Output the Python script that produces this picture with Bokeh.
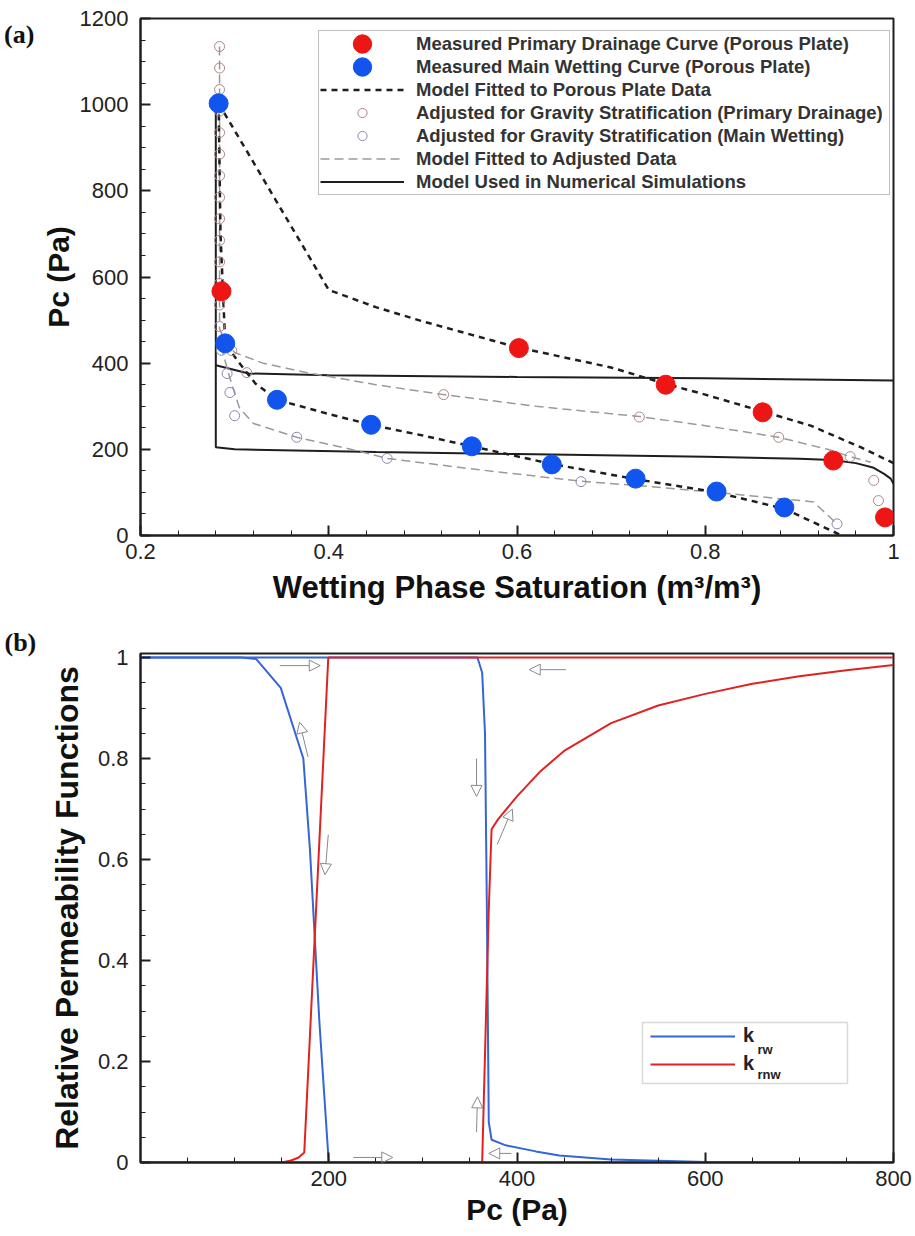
from bokeh.plotting import figure
from bokeh.models import (Range1d, Legend, LegendItem, Label, Arrow, NormalHead, BoxAnnotation, Div,
                          SingleIntervalTicker, FixedTicker, CustomJSTickFormatter, ColumnDataSource)
from bokeh.layouts import column, row
from bokeh.embed import file_html
from bokeh.resources import INLINE

# ---------------- Panel (a) data ----------------
sat_pd_meas = [0.286, 0.602, 0.758, 0.861, 0.936, 0.991]
pc_pd_meas = [567, 435, 350, 286, 174, 42]

sat_mw_meas = [0.283, 0.290, 0.345, 0.445, 0.552, 0.637, 0.726, 0.812, 0.884]
pc_mw_meas = [1003, 446, 315, 257, 207, 165, 132, 102, 65]

sat_fit_pd = [0.283, 0.40, 0.45, 0.50, 0.60, 0.70, 0.758, 0.80, 0.861, 0.912, 0.965, 1.0]
pc_fit_pd = [1003, 570, 530, 497, 437, 390, 352, 327, 288, 255, 205, 168]

sat_fit_mw = [0.283, 0.285, 0.290, 0.303, 0.322, 0.345, 0.40, 0.445, 0.50, 0.552, 0.637, 0.726, 0.812, 0.884, 0.945]
pc_fit_mw = [1003, 700, 446, 406, 353, 315, 282, 257, 232, 207, 166, 131, 100, 62, 0]

sat_pd_adj = [0.284, 0.284, 0.284, 0.284, 0.284, 0.284, 0.284, 0.284, 0.284, 0.284, 0.284, 0.284, 0.284, 0.284,
              0.297, 0.313, 0.522, 0.730, 0.878, 0.954, 0.979, 0.984]
pc_pd_adj = [1135, 1085, 1035, 985, 935, 885, 835, 785, 735, 685, 635, 585, 535, 485,
             429, 378, 327, 275, 228, 183, 128, 81]

sat_mw_adj = [0.286, 0.292, 0.295, 0.300, 0.366, 0.462, 0.668, 0.940]
pc_mw_adj = [430, 376, 332, 278, 228, 179, 125, 27]

sat_afit_pd = [0.284, 0.284, 0.290, 0.300, 0.330, 0.377, 0.450, 0.522, 0.620, 0.730, 0.800, 0.878, 0.930, 0.954, 0.976]
pc_afit_pd = [1135, 480, 450, 425, 400, 378, 350, 327, 300, 276, 255, 228, 200, 183, 170]

sat_afit_mw = [0.286, 0.289, 0.293, 0.298, 0.305, 0.320, 0.366, 0.420, 0.462, 0.550, 0.668, 0.750, 0.811, 0.915, 0.940]
pc_afit_mw = [440, 413, 380, 344, 297, 260, 228, 202, 179, 155, 126, 112, 100, 78, 27]

sat_sim_lo = [0.28, 0.28, 0.30, 0.45, 0.60, 0.80, 0.90, 0.935, 0.96, 0.978, 0.99, 0.997, 1.0]
pc_sim_lo = [1000, 205, 200, 194, 189, 183, 178, 175, 168, 158, 143, 132, 120]
sat_sim_up = [0.28, 0.315, 0.40, 0.60, 0.80, 1.0]
pc_sim_up = [395, 376, 372, 368, 365, 360]

# ---------------- Panel (b) data ----------------
pc_krw_a = [0, 107, 123, 149, 173, 180, 190, 200, 800]
krw_a = [1.0, 1.0, 0.997, 0.94, 0.80, 0.62, 0.28, 0.0, 0.0]
pc_krw_b = [0, 358, 363, 366, 368, 370, 373, 388, 420, 445, 500, 600, 800]
krw_b = [1.0, 1.0, 0.97, 0.85, 0.5, 0.08, 0.045, 0.034, 0.022, 0.014, 0.006, 0.001, 0.0]
pc_krnw_a = [0, 150, 160, 168, 174, 199.5, 800]
krnw_a = [0.0, 0.0, 0.004, 0.01, 0.02, 1.0, 1.0]
pc_krnw_b = [0, 363, 370, 373, 380, 400, 425, 450, 500, 550, 600, 650, 700, 750, 800]
krnw_b = [0.0, 0.0, 0.5, 0.66, 0.68, 0.725, 0.775, 0.815, 0.87, 0.905, 0.928, 0.948, 0.963, 0.975, 0.985]

# direction arrows (Pc, kr)
arr_x0 = [148, 178, 199.5, 226, 357, 394, 357, 379, 452]
arr_y0 = [0.984, 0.803, 0.649, 0.010, 0.060, 0.018, 0.800, 0.630, 0.976]
arr_x1 = [191, 169, 196, 268, 358, 370, 357, 395, 413]
arr_y1 = [0.984, 0.872, 0.570, 0.010, 0.130, 0.018, 0.725, 0.700, 0.976]

AX_FONT = "Liberation Sans"
TICK_FONT = "Liberation Sans"
BLACK = "#1e1e1e"
FMT = CustomJSTickFormatter(code="return String(Math.round(tick * 1000) / 1000);")


def style(p):
    p.grid.visible = False
    p.outline_line_color = BLACK
    p.outline_line_width = 2
    for ax in (p.xaxis[0], p.yaxis[0]):
        ax.axis_line_width = 2
        ax.axis_line_color = BLACK
        ax.major_tick_in = 10
        ax.major_tick_out = 0
        ax.minor_tick_in = 5
        ax.minor_tick_out = 0
        ax.major_tick_line_width = 2
        ax.major_tick_line_color = BLACK
        ax.minor_tick_line_color = BLACK
        ax.major_label_text_font = TICK_FONT
        ax.major_label_text_font_size = "22px"
        ax.major_label_text_color = "#222222"
        ax.axis_label_text_font = AX_FONT
        ax.axis_label_text_font_style = "bold"
        ax.axis_label_text_font_size = "30px"
        ax.axis_label_text_color = "#111111"


# ---------------- Figure (a) ----------------
TAG_W = 36
pa = figure(frame_width=753, frame_height=517, min_border_left=140 - TAG_W, min_border_right=22,
            min_border_top=18, min_border_bottom=75,
            x_range=Range1d(0.2, 1.0), y_range=Range1d(0, 1200),
            output_backend="svg", toolbar_location=None)
style(pa)
pa.xaxis.ticker = SingleIntervalTicker(interval=0.2, num_minor_ticks=5)
pa.yaxis.ticker = SingleIntervalTicker(interval=200, num_minor_ticks=4)
pa.xaxis.formatter = FMT
pa.xaxis.axis_label = "Wetting Phase Saturation (m³/m³)"
pa.yaxis.axis_label = "Pc (Pa)"
pa.xaxis.axis_label_text_font_size = "31px"
pa.xaxis.major_label_standoff = 8
pa.yaxis.major_label_standoff = 12
pa.xaxis.axis_label_standoff = 8
pa.yaxis.axis_label_standoff = 2

r_sim1 = pa.line(sat_sim_lo, pc_sim_lo, line_color=BLACK, line_width=2)
pa.line(sat_sim_up, pc_sim_up, line_color=BLACK, line_width=2)
r_afit = pa.line(sat_afit_pd, pc_afit_pd, line_color="#9a9a9a", line_width=1.5, line_dash="9 5")
pa.line(sat_afit_mw, pc_afit_mw, line_color="#9a9a9a", line_width=1.5, line_dash="9 5")
r_fit = pa.line(sat_fit_pd, pc_fit_pd, line_color=BLACK, line_width=2.5, line_dash="6 5")
pa.line(sat_fit_mw, pc_fit_mw, line_color=BLACK, line_width=2.5, line_dash="6 5")
r_pdadj = pa.scatter(sat_pd_adj, pc_pd_adj, marker="circle", size=10, fill_color=None,
                     line_color="#b08585", line_width=1)
r_mwadj = pa.scatter(sat_mw_adj, pc_mw_adj, marker="circle", size=10, fill_color=None,
                     line_color="#8c86b4", line_width=1)
r_pd = pa.ellipse(sat_pd_meas, pc_pd_meas, width=19, height=19, width_units="screen",
                  height_units="screen", fill_color="#ee1515", line_color="#ee1515")
r_mw = pa.ellipse(sat_mw_meas, pc_mw_meas, width=19, height=19, width_units="screen",
                  height_units="screen", fill_color="#1155ee", line_color="#1155ee")

leg_a = Legend(items=[
    LegendItem(label="Measured Primary Drainage Curve (Porous Plate)", renderers=[r_pd]),
    LegendItem(label="Measured Main Wetting Curve (Porous Plate)", renderers=[r_mw]),
    LegendItem(label="Model Fitted to Porous Plate Data", renderers=[r_fit]),
    LegendItem(label="Adjusted for Gravity Stratification (Primary Drainage)", renderers=[r_pdadj]),
    LegendItem(label="Adjusted for Gravity Stratification (Main Wetting)", renderers=[r_mwadj]),
    LegendItem(label="Model Fitted to Adjusted Data", renderers=[r_afit]),
    LegendItem(label="Model Used in Numerical Simulations", renderers=[r_sim1]),
], location=(178, 340))
leg_a.padding = 1
leg_a.spacing = 0
leg_a.margin = 0
leg_a.glyph_width = 84
leg_a.glyph_height = 23
leg_a.label_height = 23
leg_a.label_width = 472
leg_a.label_standoff = 12
leg_a.label_text_font = AX_FONT
leg_a.label_text_font_style = "bold"
leg_a.label_text_font_size = "18.5px"
leg_a.label_text_color = "#333333"
leg_a.border_line_color = "#808080"
leg_a.border_line_width = 1.5
leg_a.background_fill_alpha = 1
pa.add_layout(leg_a)

tag_a = Div(text="(a)", width=TAG_W, height=60, margin=0,
            styles={"font-family": "Liberation Serif", "font-weight": "bold", "font-size": "26px",
                    "color": "#111111", "padding-top": "20px", "padding-left": "4px",
                    "box-sizing": "border-box", "line-height": "30px", "overflow": "visible",
                    "white-space": "nowrap"})

# ---------------- Figure (b) ----------------
pb = figure(frame_width=753, frame_height=509, min_border_left=140, min_border_right=22,
            min_border_top=43, min_border_bottom=66,
            x_range=Range1d(0, 800), y_range=Range1d(0, 1.008),
            output_backend="svg", toolbar_location=None)
style(pb)
pb.title.text = "(b)"
pb.title.align = "left"
pb.title.offset = -136
pb.title.standoff = -6
pb.title.text_font = "Liberation Serif"
pb.title.text_font_style = "bold"
pb.title.text_font_size = "26px"
pb.title.text_color = "#111111"
pb.xaxis.ticker = FixedTicker(ticks=[200, 400, 600, 800],
                              minor_ticks=[50, 100, 150, 250, 300, 350, 450, 500, 550, 650, 700, 750])
pb.yaxis.ticker = SingleIntervalTicker(interval=0.2, num_minor_ticks=4)
pb.yaxis.formatter = FMT
pb.xaxis.axis_label = "Pc (Pa)"
pb.yaxis.axis_label = "Relative Permeability Functions"
pb.xaxis.major_label_standoff = 8
pb.yaxis.major_label_standoff = 12
pb.xaxis.axis_label_standoff = 4
pb.yaxis.axis_label_standoff = 10
pb.yaxis.axis_label_text_font_size = "32px"

BLUE = "#3565d6"
RED = "#e02222"
r_b1 = pb.line(pc_krw_a, krw_a, line_color=BLUE, line_width=2)
pb.line(pc_krw_b, krw_b, line_color=BLUE, line_width=2)
r_r1 = pb.line(pc_krnw_a, krnw_a, line_color=RED, line_width=2)
pb.line(pc_krnw_b, krnw_b, line_color=RED, line_width=2)

arrows = ColumnDataSource(dict(x_start=arr_x0, y_start=arr_y0, x_end=arr_x1, y_end=arr_y1))
pb.add_layout(Arrow(source=arrows, x_start="x_start", y_start="y_start", x_end="x_end", y_end="y_end",
                    line_color="#8a8a8a", line_width=1,
                    end=NormalHead(size=11, fill_alpha=0, line_color="#8a8a8a", line_width=1)))

# legend box drawn separately so that the subscript labels stay visible
pb.add_layout(BoxAnnotation(left=533.3, right=751.1, bottom=0.1564, top=0.2773,
                            fill_color="white", fill_alpha=1,
                            line_color="#808080", line_width=1.5))
leg_b = Legend(items=[LegendItem(label="k", renderers=[r_b1]),
                      LegendItem(label="k", renderers=[r_r1])], location=(502, 79))
leg_b.padding = 8
leg_b.spacing = 5
leg_b.margin = 0
leg_b.glyph_width = 85
leg_b.glyph_height = 20
leg_b.label_height = 20
leg_b.label_width = 96
leg_b.label_standoff = 8
leg_b.label_text_font = AX_FONT
leg_b.label_text_font_style = "bold"
leg_b.label_text_font_size = "20px"
leg_b.label_text_color = "#222222"
leg_b.border_line_alpha = 0
leg_b.background_fill_alpha = 0
pb.add_layout(leg_b)
for sub, yy in (("rw", 113), ("rnw", 88)):
    pb.add_layout(Label(x=617, y=yy, x_units="screen", y_units="screen", text=sub,
                        text_font=AX_FONT, text_font_style="bold", text_font_size="13px",
                        text_baseline="middle", text_color="#222222"))

layout = column(row(tag_a, pa, spacing=0), pb, spacing=0)
open("out.html", "w").write(file_html(layout, INLINE))
